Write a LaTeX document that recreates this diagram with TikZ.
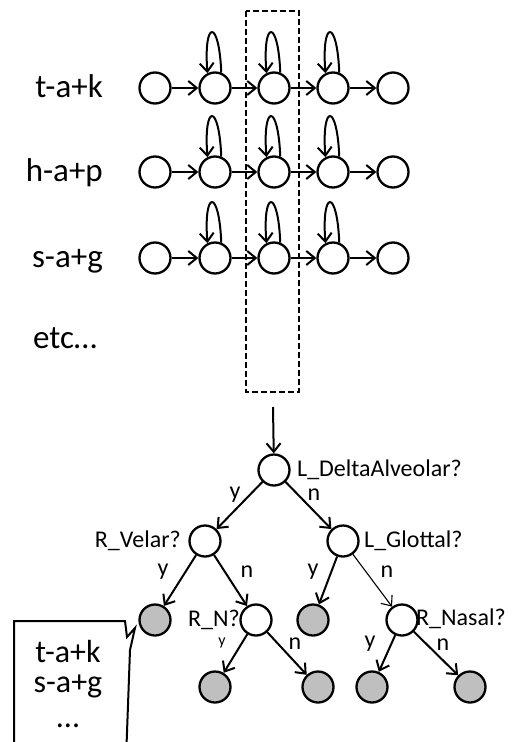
\documentclass[tikz,border=0pt]{standalone}
\usepackage{fontspec}
\setmainfont{Carlito}
\usetikzlibrary{arrows.meta}
\definecolor{leafgray}{RGB}{191,191,191}
\begin{document}
\begin{tikzpicture}[x=1pt,y=-1pt,
  st/.style={circle,draw,line width=2.3pt,minimum size=31pt,inner sep=0pt},
  leaf/.style={st,fill=leafgray},
  arr/.style={line width=2pt,-{Straight Barb[length=8.5pt,width=14pt,line width=2pt]}},
  thinarr/.style={line width=1.1pt,-{Straight Barb[length=8.5pt,width=14pt,line width=1.1pt]}},
  rowlab/.style={font=\fontsize{33}{36}\selectfont,inner sep=0pt},
  qlab/.style={font=\fontsize{24}{26}\selectfont,inner sep=0pt},
  elab/.style={font=\fontsize{24}{26}\selectfont,inner sep=0pt},
  slab/.style={font=\fontsize{16}{18}\selectfont,inner sep=0pt},
  boxlab/.style={font=\fontsize{32}{34}\selectfont,inner sep=0pt}]
\useasboundingbox (0,0) rectangle (520,742);
\clip (0,0) rectangle (520,742);

% HMM rows
\foreach \r/\yy/\lab in {1/88/t-a+k, 2/172/h-a+p, 3/258/s-a+g}{
  \node[rowlab,anchor=base east] (lab\r) at (103,\yy+9) {\lab};
  \foreach \i/\xx in {1/155,2/215,3/274,4/333,5/393}{
    \node[st] (n\r\i) at (\xx,\yy) {};
  }
  \foreach \i/\j in {1/2,2/3,3/4,4/5}{
    \draw[arr] (n\r\i) -- (n\r\j);
  }
  \foreach \i in {2,3,4}{
    \draw[arr] (n\r\i.68) .. controls +(-2,-54) and +(-4,-54) .. (n\r\i.117);
  }
}
\node[rowlab,anchor=base west] (etc) at (33,348) {etc…};

% dashed selection box
\draw[line width=2pt,dash pattern=on 6pt off 3pt] (246,11) rectangle (299,392);
\coordinate (boxout) at (273,407);

% tree
\node[st] (root) at (274,470) {};
\node[st] (rv) at (205,541) {};
\node[st] (lg) at (343,541) {};
\node[leaf] (l1) at (155,620) {};
\node[st] (rn) at (256,620) {};
\node[leaf] (l2) at (313,620) {};
\node[st] (rna) at (402,620) {};
\node[leaf] (l3) at (215,687) {};
\node[leaf] (l4) at (318,687) {};
\node[leaf] (l5) at (372,687) {};
\node[leaf] (l6) at (470,687) {};

\draw[arr] (boxout) -- (root);
\draw[arr] (root) -- (rv);
\draw[arr] (root) -- (lg);
\draw[arr] (rv) -- (l1);
\draw[arr] (rv) -- (rn);
\draw[arr] (lg) -- (l2);
\draw[thinarr] (lg) -- (rna);
\draw[arr] (rn) -- (l3);
\draw[arr] (rn) -- (l4);
\draw[arr] (rna) -- (l5);
\draw[arr] (rna) -- (l6);

% question labels
\node[qlab,anchor=west] (qroot) at (297,470) {L\_DeltaAlveolar?};
\node[qlab,anchor=east] (qrv) at (181,541) {R\_Velar?};
\node[qlab,anchor=west] (qlg) at (364,541) {L\_Glottal?};
\node[qlab,anchor=east] (qrn) at (240,620) {R\_N?};
\node[qlab,anchor=west] (qrna) at (416,619) {R\_Nasal?};

% edge labels
\node[elab] (e1) at (235,495) {y};
\node[elab] (e2) at (314,495) {n};
\node[elab] (e3) at (163,572) {y};
\node[elab] (e4) at (247,572) {n};
\node[elab] (e5) at (313,572) {y};
\node[elab] (e6) at (387,572) {n};
\node[slab] (e7) at (222,643) {y};
\node[elab] (e8) at (295,644) {n};
\node[elab] (e9) at (370,644) {y};
\node[elab] (e10) at (443,645) {n};

% callout
\draw[line width=2pt,line join=miter] (14,760) -- (14,621) -- (125,621) -- (127,637) -- (135,628) -- (130,650) -- (126,760);
\node[boxlab,anchor=base] (c1) at (68,662) {t-a+k};
\node[boxlab,anchor=base] (c2) at (68,692) {s-a+g};
\node[boxlab,anchor=base] (c3) at (68,727) {...};
\end{tikzpicture}
\end{document}
